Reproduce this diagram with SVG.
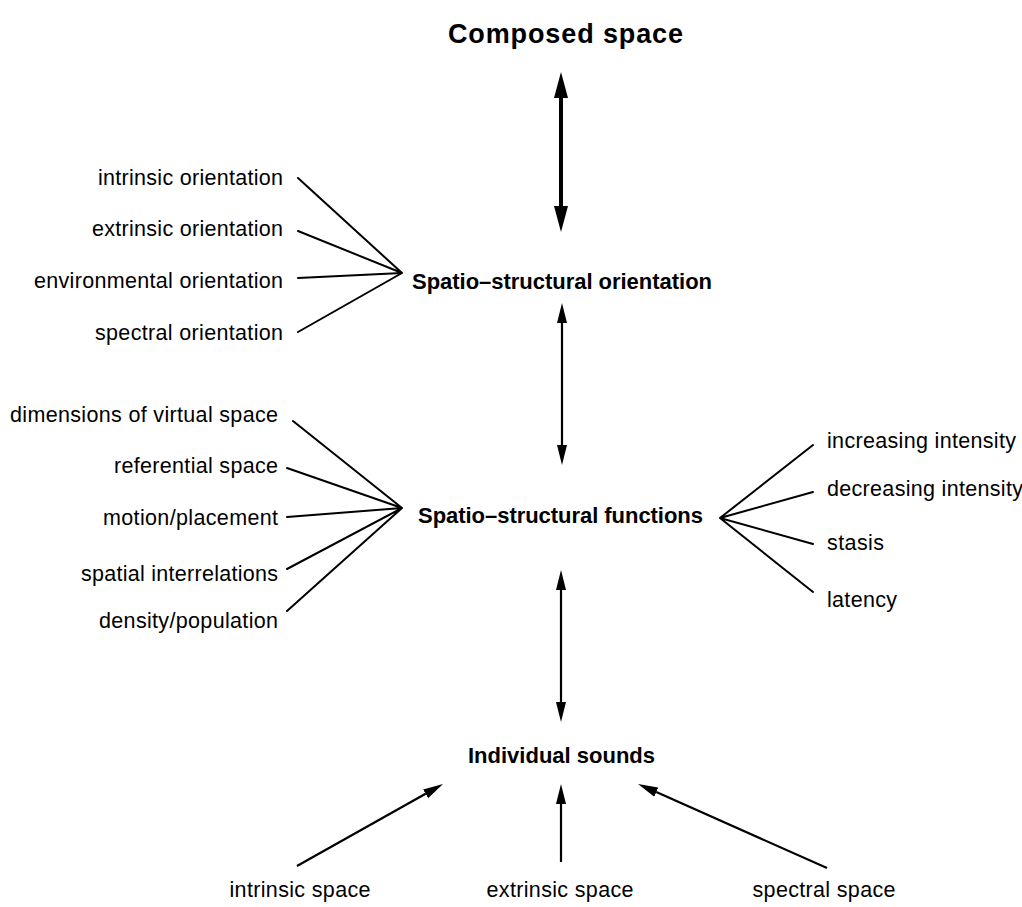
<svg xmlns="http://www.w3.org/2000/svg" width="1022" height="907" viewBox="0 0 1022 907">
  <style>
    .lbl { font-family: "Liberation Sans", Arial, sans-serif; font-size: 21.5px; fill: #000; }
    .hd { font-family: "Liberation Sans", Arial, sans-serif; font-size: 22px; font-weight: bold; fill: #000; }
    .ttl { font-family: "Liberation Sans", Arial, sans-serif; font-size: 27px; font-weight: bold; fill: #000; }
    .fan { stroke: #000; stroke-width: 2; fill: none; stroke-linecap: round; }
    .thin { stroke: #000; stroke-width: 2.2; fill: none; }
    .thick { stroke: #000; stroke-width: 4; fill: none; }
  </style>
  <defs>
    <!-- arrowheads start at the line end and point outward -->
    <marker id="bigHead" markerUnits="userSpaceOnUse" markerWidth="27" markerHeight="16" viewBox="0 -8 27 16" refX="0" refY="0" orient="auto-start-reverse">
      <path d="M0,-7 L26,0 L0,7 z" fill="#000"/>
    </marker>
    <marker id="head" markerUnits="userSpaceOnUse" markerWidth="21" markerHeight="12" viewBox="0 -6 21 12" refX="0" refY="0" orient="auto-start-reverse">
      <path d="M0,-5 L20,0 L0,5 z" fill="#000"/>
    </marker>
  </defs>
  <rect width="1022" height="907" fill="#fff"/>

  <g id="connectors">
    <!-- vertical double arrows -->
    <line class="thick" x1="561" y1="98" x2="561" y2="206" marker-start="url(#bigHead)" marker-end="url(#bigHead)"/>
    <line class="thin" x1="562" y1="323" x2="562" y2="445" marker-start="url(#head)" marker-end="url(#head)"/>
    <line class="thin" x1="561" y1="590" x2="561" y2="702" marker-start="url(#head)" marker-end="url(#head)"/>
    <!-- inputs to individual sounds -->
    <line class="thin" x1="297" y1="866" x2="425.6" y2="793.8" marker-end="url(#head)"/>
    <line class="thin" x1="561" y1="862" x2="561" y2="804" marker-end="url(#head)"/>
    <line class="thin" x1="827" y1="868" x2="656.3" y2="792.1" marker-end="url(#head)"/>
    <!-- orientation fan -->
    <path class="fan" d="M298,178 L402,273 M298,231 L402,273 M298,278 L402,273 M298,332 L402,273"/>
    <!-- functions fan (left) -->
    <path class="fan" d="M293,421 L402,508 M287,468 L402,508 M287,517 L402,508 M287,569 L402,508 M287,611 L402,508"/>
    <!-- functions fan (right) -->
    <path class="fan" d="M720,518 L813,445 M720,518 L813,492 M720,518 L813,544 M720,518 L813,592"/>
  </g>

  <g id="composed-space">
    <text class="ttl" x="448" y="43" textLength="235" lengthAdjust="spacing">Composed space</text>
  </g>

  <g id="orientation">
    <text class="hd" x="412" y="289" textLength="300" lengthAdjust="spacing">Spatio–structural orientation</text>
  </g>
  <g id="orientation-items">
    <text class="lbl" x="98" y="185" textLength="185" lengthAdjust="spacing">intrinsic orientation</text>
    <text class="lbl" x="92" y="236" textLength="191" lengthAdjust="spacing">extrinsic orientation</text>
    <text class="lbl" x="34" y="288" textLength="249" lengthAdjust="spacing">environmental orientation</text>
    <text class="lbl" x="95" y="340" textLength="188" lengthAdjust="spacing">spectral orientation</text>
  </g>

  <g id="functions">
    <text class="hd" x="418" y="523" textLength="285" lengthAdjust="spacing">Spatio–structural functions</text>
  </g>
  <g id="function-items">
    <text class="lbl" x="10" y="422" textLength="268" lengthAdjust="spacing">dimensions of virtual space</text>
    <text class="lbl" x="114" y="473" textLength="164" lengthAdjust="spacing">referential space</text>
    <text class="lbl" x="103" y="525" textLength="175" lengthAdjust="spacing">motion/placement</text>
    <text class="lbl" x="81" y="581" textLength="197" lengthAdjust="spacing">spatial interrelations</text>
    <text class="lbl" x="99" y="628" textLength="179" lengthAdjust="spacing">density/population</text>
  </g>
  <g id="function-modes">
    <text class="lbl" x="827" y="448" textLength="189" lengthAdjust="spacing">increasing intensity</text>
    <text class="lbl" x="827" y="496" textLength="196" lengthAdjust="spacing">decreasing intensity</text>
    <text class="lbl" x="827" y="550" textLength="57" lengthAdjust="spacing">stasis</text>
    <text class="lbl" x="827" y="607" textLength="70" lengthAdjust="spacing">latency</text>
  </g>

  <g id="individual-sounds">
    <text class="hd" x="468" y="763" textLength="187" lengthAdjust="spacing">Individual sounds</text>
  </g>
  <g id="intrinsic-space">
    <text class="lbl" x="229.5" y="897" textLength="141" lengthAdjust="spacing">intrinsic space</text>
  </g>
  <g id="extrinsic-space">
    <text class="lbl" x="486.5" y="897" textLength="147" lengthAdjust="spacing">extrinsic space</text>
  </g>
  <g id="spectral-space">
    <text class="lbl" x="752.5" y="897" textLength="143" lengthAdjust="spacing">spectral space</text>
  </g>
</svg>
